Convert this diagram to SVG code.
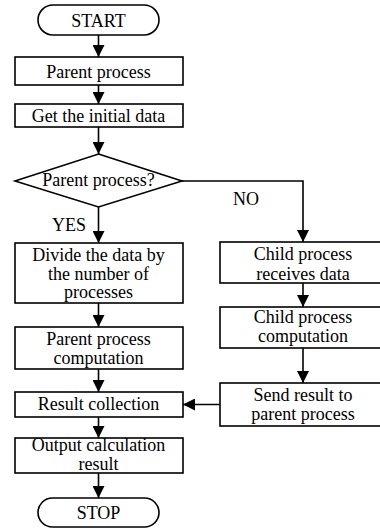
<svg xmlns="http://www.w3.org/2000/svg" width="380" height="528" viewBox="0 0 380 528">
<style>
.box{fill:#fff;stroke:#000;stroke-width:1.6}
.t{font-family:"Liberation Serif","Times New Roman",serif;font-size:18px;fill:#000;text-anchor:middle}
.lbl{font-family:"Liberation Serif","Times New Roman",serif;font-size:18px;fill:#000}
.c{fill:none;stroke:#000;stroke-width:1.6}
</style>
<defs>
<marker id="arr" markerUnits="userSpaceOnUse" markerWidth="12" markerHeight="12" refX="12" refY="6" orient="auto">
<path d="M0,0 L12,6 L0,12 z" fill="#000"/>
</marker>
</defs>
<rect width="380" height="528" fill="#fff"/>
<g id="connectors">
<line class="c" x1="98.5" y1="35" x2="98.5" y2="57" marker-end="url(#arr)"/>
<line class="c" x1="98.5" y1="85" x2="98.5" y2="104" marker-end="url(#arr)"/>
<line class="c" x1="98.5" y1="127" x2="98.5" y2="154" marker-end="url(#arr)"/>
<line class="c" x1="98.5" y1="207" x2="98.5" y2="243" marker-end="url(#arr)"/>
<polyline class="c" points="182,181 303,181 303,242" marker-end="url(#arr)"/>
<line class="c" x1="98.5" y1="303" x2="98.5" y2="327" marker-end="url(#arr)"/>
<line class="c" x1="98.5" y1="369" x2="98.5" y2="392" marker-end="url(#arr)"/>
<line class="c" x1="98.5" y1="417" x2="98.5" y2="438" marker-end="url(#arr)"/>
<line class="c" x1="98.5" y1="473" x2="98.5" y2="498" marker-end="url(#arr)"/>
<line class="c" x1="303" y1="283" x2="303" y2="307" marker-end="url(#arr)"/>
<line class="c" x1="303" y1="348" x2="303" y2="383" marker-end="url(#arr)"/>
<line class="c" x1="220" y1="404.5" x2="183" y2="404.5" marker-end="url(#arr)"/>
<text class="lbl" x="233" y="205">NO</text>
<text class="lbl" x="52" y="231">YES</text>
</g>
<g id="start">
<rect class="box" x="38" y="5" width="121" height="30" rx="15" ry="15"/>
<text class="t" x="98.5" y="27">START</text>
</g>
<g id="parent">
<rect class="box" x="15" y="57" width="168" height="28"/>
<text class="t" x="98.5" y="77.5">Parent process</text>
</g>
<g id="getdata">
<rect class="box" x="15" y="104" width="168" height="23"/>
<text class="t" x="98.5" y="122">Get the initial data</text>
</g>
<g id="decision">
<polygon class="box" points="98.5,154 182,181 98.5,207 15,181"/>
<text class="t" x="98.5" y="186">Parent process?</text>
</g>
<g id="divide">
<rect class="box" x="15" y="243" width="168" height="60"/>
<text class="t" x="98.5" y="261">Divide the data by</text>
<text class="t" x="98.5" y="279.5">the number of</text>
<text class="t" x="98.5" y="298">processes</text>
</g>
<g id="parentcomp">
<rect class="box" x="15" y="327" width="168" height="42"/>
<text class="t" x="98.5" y="344.5">Parent process</text>
<text class="t" x="98.5" y="363.5">computation</text>
</g>
<g id="result">
<rect class="box" x="15" y="392" width="168" height="25"/>
<text class="t" x="98.5" y="410">Result collection</text>
</g>
<g id="output">
<rect class="box" x="15" y="438" width="168" height="35"/>
<text class="t" x="98.5" y="451">Output calculation</text>
<text class="t" x="98.5" y="469.5">result</text>
</g>
<g id="stop">
<rect class="box" x="38" y="498" width="121" height="29" rx="14.5" ry="14.5"/>
<text class="t" x="98.5" y="519">STOP</text>
</g>
<g id="childrecv">
<rect class="box" x="220" y="242" width="166" height="41"/>
<text class="t" x="303" y="260">Child process</text>
<text class="t" x="303" y="279.5">receives data</text>
</g>
<g id="childcomp">
<rect class="box" x="220" y="307" width="166" height="41"/>
<text class="t" x="303" y="322.5">Child process</text>
<text class="t" x="303" y="341.5">computation</text>
</g>
<g id="send">
<rect class="box" x="220" y="383" width="166" height="43"/>
<text class="t" x="303" y="401">Send result to</text>
<text class="t" x="303" y="420">parent process</text>
</g>
</svg>
